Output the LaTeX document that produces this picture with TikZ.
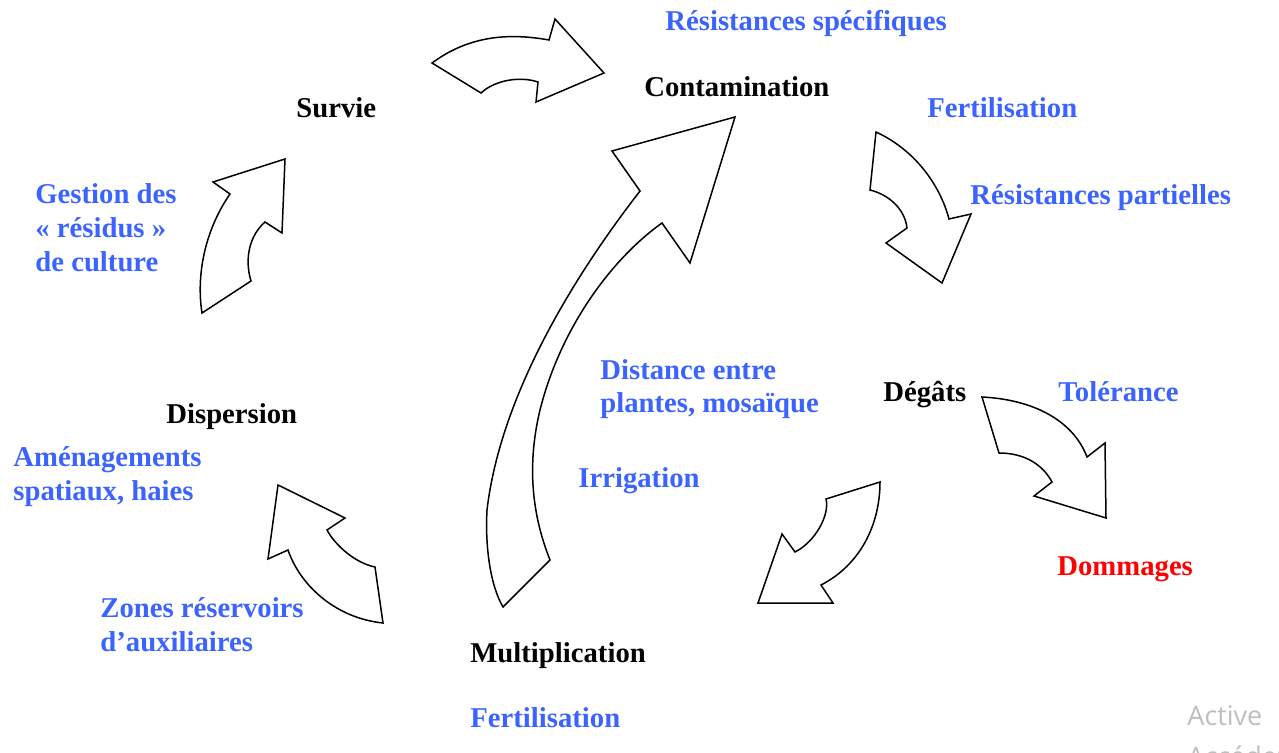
\documentclass[tikz,border=0pt]{standalone}
\usepackage{fontspec}
\setmainfont{Liberation Serif}
\newfontfamily\wmfont{Open Sans}
\definecolor{lblue}{RGB}{59,99,255}
\definecolor{lred}{RGB}{255,0,0}
\definecolor{wmgray}{RGB}{190,190,190}
\tikzset{
  lbl/.style={inner sep=0pt, font=\fontsize{14.35}{17}\selectfont\bfseries, anchor=base west},
  stage/.style={lbl, text=black},
  ctrl/.style={lbl, text=lblue, align=left},
  cyc/.style={draw=black, line width=0.75pt, fill=white, line join=miter},
  wm/.style={inner sep=0pt, anchor=base west, text=wmgray, font=\wmfont\fontsize{13.5}{16}\selectfont}
}
\begin{document}
\begin{tikzpicture}[x=0.5pt,y=-0.5pt]
\useasboundingbox (0,0) rectangle (1279,753);
\clip (0,0) rectangle (1279,753);

% cycle arrows
\draw[cyc] (432,63) .. controls (470,35) and (510,33) .. (549,40) -- (555,19) -- (604,73) -- (536,102) -- (538,82)
  .. controls (520,76) and (495,80) .. (481,93) -- cycle;
\draw[cyc] (202,313) -- (251,281) .. controls (244,258) and (250,235) .. (265,222) -- (282,233) -- (285,159) -- (213,182) -- (230,194)
  .. controls (205,230) and (196,275) .. (202,313) -- cycle;
\draw[cyc] (503,607) -- (550,560) .. controls (530,510) and (528,460) .. (540,410) .. controls (560,330) and (610,260) .. (662,223)
  -- (690,263) -- (735,117) -- (612,151) -- (640,191)
  .. controls (568,284) and (500,400) .. (487,510) .. controls (485,545) and (490,585) .. (503,607) -- cycle;
\draw[cyc] (876,132) -- (870,190) .. controls (890,195) and (905,210) .. (907,228) -- (886,243) -- (942,283) -- (971,214) -- (949,219)
  .. controls (940,185) and (915,150) .. (876,132) -- cycle;
\draw[cyc] (982,397) -- (999,453) .. controls (1025,453) and (1043,465) .. (1052,482) -- (1034,496) -- (1106,518) -- (1105,443) -- (1087,457)
  .. controls (1075,425) and (1040,400) .. (982,397) -- cycle;
\draw[cyc] (880,482) -- (826,499) .. controls (830,515) and (815,542) .. (795,552) -- (782,534) -- (758,603) -- (833,603) -- (821,585)
  .. controls (860,565) and (880,525) .. (880,482) -- cycle;
\draw[cyc] (383,623) -- (375,567) .. controls (355,563) and (335,545) .. (327,530) -- (345,518) -- (278,485) -- (268,559) -- (288,550)
  .. controls (300,585) and (335,618) .. (383,623) -- cycle;

% stages
\node[stage] (contamination) at (644,97) {Contamination};
\node[stage] (survie) at (296,118) {Survie};
\node[stage] (degats) at (883,401) {Dégâts};
\node[stage] (dispersion) at (166,423) {Dispersion};
\node[stage] (multiplication) at (470,662) {Multiplication};
\node[lbl, text=lred] (dommages) at (1057,575) {Dommages};

% control methods (multi-line nodes: base = baseline of last line)
\node[ctrl] (resspec) at (665,31) {Résistances spécifiques};
\node[ctrl] (fert1) at (927,118) {Fertilisation};
\node[ctrl] (gestion) at (35,272) {Gestion des\\« résidus »\\de culture};
\node[ctrl] (respart) at (970,205) {Résistances partielles};
\node[ctrl] (distance) at (600,413) {Distance entre\\plantes, mosaïque};
\node[ctrl] (tolerance) at (1058,401) {Tolérance};
\node[ctrl] (amenag) at (13,500) {Aménagements\\spatiaux, haies};
\node[ctrl] (irrigation) at (578,487) {Irrigation};
\node[ctrl] (zones) at (100,651) {Zones réservoirs\\d’auxiliaires};
\node[ctrl] (fert2) at (470,727) {Fertilisation};

% watermark
\node[wm] (wm1) at (1187,725) {Active};
\node[wm] (wm2) at (1187,766) {Accédez};
\end{tikzpicture}
\end{document}
